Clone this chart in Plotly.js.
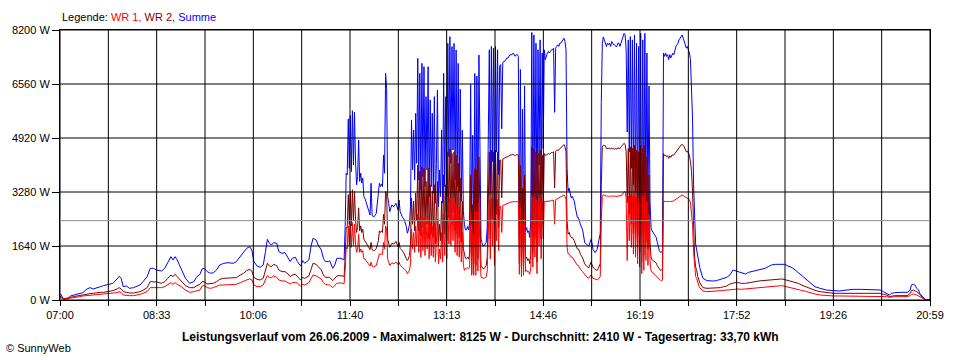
<!DOCTYPE html>
<html>
<head>
<meta charset="utf-8">
<script src="https://cdn.plot.ly/plotly-3.0.1.min.js"></script>
<style>
html,body{margin:0;padding:0;background:#fff;}
#chart{width:960px;height:360px;}
</style>
</head>
<body>
<div id="chart"></div>
<script>
// x values: minutes after 07:00 (26.06.2009)
const timeLabels = ["07:00","08:33","10:06","11:40","13:13","14:46","16:19","17:52","19:26","20:59"];
const dayMinutes = 839;
const yTicks = [0, 1640, 3280, 4920, 6560, 8200];
const average = 2410;

const minutes = [
  0,1,3,8,10,13,16,19,22,26,29,32,35,39,42,45,48,51,55,57,59,61,64,67,71,74,77,80,84,87,90,93,98,101,104,107,109,111,113,117,121,125,129,132,135,
  137,139,142,145,148,151,154,158,162,167,170,174,177,180,183,185,187,190,193,196,198,200,202,204,206,209,211,214,217,220,222,224,227,229,232,234,236,240,242,244,247,249,252,254,256,259,260,263,265,267,
  270,273,274,275,276,277,278,279,280,281,
  282,283,284,285,286,287,288,289,290,291,
  292,293,294,295,296,297,298,299,300,301,
  302,303,305,307,308,309,310,311,312,313,
  314,315,316,317,318,320,322,324,326,327,
  328,330,332,334,335,336,337,338,339,340,
  341,342,343,344,345,346,347,348,349,350,
  351,352,353,354,355,356,357,358,359,360,
  361,362,363,364,365,366,367,368,369,370,
  371,372,373,374,375,376,377,378,379,380,
  381,382,383,384,385,386,387,388,389,390,
  391,392,393,394,395,396,397,398,399,400,
  401,402,403,404,405,406,407,408,409,410,
  411,412,413,414,415,416,417,418,419,420,
  421,422,423,424,425,426,427,428,429,430,
  431,432,433,434,435,436,437,438,439,440,
  441,442,443,444,445,446,447,448,449,450,
  451,452,453,454,455,456,457,458,459,460,
  461,462,463,464,465,466,467,468,469,470,
  471,472,473,474,475,476,477,478,479,480,
  481,482,483,484,485,486,487,488,489,490,
  491,492,493,494,495,496,497,498,499,500,
  501,502,504,506,508,510,512,513,514,516,
  518,519,520,521,522,523,524,525,526,527,
  528,529,530,531,532,533,534,535,536,537,
  538,539,540,541,542,543,544,545,546,547,
  548,549,550,551,552,553,554,555,556,557,
  558,559,560,561,562,563,564,565,566,567,
  568,569,570,571,572,573,574,575,576,577,
  578,579,580,581,582,583,584,585,586,587,
  588,589,590,591,592,593,594,595,596,597,
  598,599,600,601,602,603,604,605,606,607,
  608,609,610,611,612,613,614,615,616,617,
  619,620,624,627,630,633,637,640,643,646,
  648,649,651,654,657,661,664,667,670,674,
  677,680,683,686,690,693,696,699,702,706,
  709,712,715,719,722,725,728,733,739,746,
  752,759,765,772,778,784,791,794,797,800,
  802,805,810,817,820,821,823,825,826,828,
  829,832,834,836,839
];

const summe = [
  170,172,31,31,122,152,172,203,223,334,375,334,375,405,436,456,476,506,638,719,658,405,425,355,375,405,456,557,709,962,962,911,881,962,1164,1316,1215,1316,1215,911,658,506,557,709,780,
  942,962,861,811,831,912,1064,1114,1134,1114,1165,1337,1468,1570,1620,1519,1165,1033,993,1064,1438,1843,1721,1671,1742,1721,1468,1418,1438,1266,1165,1266,1296,1165,1033,1195,1114,1215,1620,1873,1823,1671,1519,1266,1165,1165,1195,962,1064,1266,
  1268,1237,1217,2229,3848,3800,5500,4000,5600,3900,
  5750,4100,5700,4200,3500,3750,4860,3600,3850,3550,
  3700,3140,3090,2990,2890,2735,2630,2580,3545,2580,
  2530,2530,2630,3140,3545,3444,3525,3444,4405,3848,
  6884,6429,3140,2938,2685,2887,2837,2938,2735,3039,
  2685,2533,2432,2229,2027,2128,2280,2837,5468,3950,
  5164,3646,5670,4152,7340,3646,6884,3342,7188,3747,
  7087,3444,6176,3950,7087,3140,6075,3444,5670,3241,
  6176,2938,4152,6378,2837,3950,3140,5164,2938,6884,
  3444,6176,3140,7795,4354,7998,4152,7694,4557,7795,
  3646,7593,3444,7188,3300,6400,3000,5160,2700,2300,
  2130,2130,2230,2130,2330,6560,2300,5000,2000,6880,
  1900,6800,2200,7440,3500,1850,1740,1640,1640,1700,
  1750,2200,5620,7600,3200,7700,4200,7650,2600,7700,
  4500,7600,3800,7100,7150,5200,7200,7250,7250,7300,
  7350,7350,7400,7450,7450,7450,7500,7450,7400,7450,
  7450,7400,1900,7000,1700,5800,1800,6500,2100,2200,
  2050,2100,1900,2400,8125,2500,8050,3300,7800,2000,
  7600,4100,7900,3200,7500,4600,7600,7300,7450,7500,
  7550,7500,7550,7600,7600,7650,5700,7650,7700,7750,
  7700,7800,7800,7850,7900,7950,7850,7600,4000,3300,
  3400,3250,3100,3150,3050,3000,2800,2600,2500,2500,
  2380,2280,2130,1750,1680,1640,1840,1740,1540,1440,
  1540,1740,1900,2030,6000,7800,7990,7900,7850,7700,
  7800,7750,7800,7700,7850,7800,7750,7750,7700,7700,
  7800,7800,7700,7800,7900,8050,8100,8050,7600,5100,
  7900,4500,8000,4000,7900,3500,8050,3300,7800,2800,
  7700,2500,8100,2000,7900,2300,8100,3000,7500,2700,
  6500,3000,2200,2100,2050,2000,1950,1900,1750,1600,
  1500,1450,1450,1500,7500,7400,7500,7400,7450,7300,
  7450,7350,7450,7500,7450,7600,7700,7750,7800,7900,
  7950,8000,8050,7950,7850,7700,7650,7700,7600,7500,
  7300,6500,5500,3500,2200,1700,1520,1300,1150,980,
  759,658,587,577,577,587,628,658,689,759,
  861,911,891,861,830,790,840,861,881,911,
  931,962,1012,1063,1083,1083,1093,1083,1033,982,
  911,830,759,658,557,476,405,355,304,284,
  274,304,324,324,324,324,304,253,203,152,
  203,223,233,233,304,456,476,436,355,304,
  203,101,30,0,0
];

const wr2 = [
  100,102,31,51,81,102,122,142,162,172,193,203,223,233,233,253,264,284,334,375,334,253,233,213,213,223,253,294,375,557,557,547,506,557,658,759,709,780,709,557,436,375,375,436,476,
  558,558,487,487,507,558,628,659,659,659,679,760,811,892,932,881,689,628,608,659,861,1114,1033,1013,1084,1043,912,861,861,790,709,760,780,709,608,689,659,730,962,1114,1084,1013,912,760,689,689,689,588,659,730,
  740,730,720,1300,2200,2200,3200,2300,3300,2250,
  3350,2400,3300,2450,2050,2200,2800,2100,2250,2050,
  2150,1850,1800,1750,1700,1620,1560,1530,1750,1530,
  1500,1500,1560,1800,2100,2050,2100,2050,2600,2300,
  3300,3200,1850,1750,1600,1720,1700,1780,1620,1750,
  1570,1500,1400,1250,1200,1250,1350,1700,3100,2300,
  3000,2100,3250,2400,4100,2100,3900,1950,4050,2200,
  4000,2000,3600,2300,4000,1850,3500,2000,3300,1900,
  3500,1700,2400,3600,1650,2300,1800,3000,1700,3800,
  2000,3500,1800,4500,2500,4600,2400,4450,2650,4500,
  2100,4400,2000,4150,1900,3700,1750,3000,1550,1350,
  1270,1250,1300,1250,1400,3800,800,2900,1100,4000,
  1050,3950,1250,4350,2000,1050,1000,950,950,1000,
  1050,1300,3200,4500,1850,4550,2450,4500,1500,4550,
  2600,4500,2200,4250,4250,3100,4280,4300,4300,4320,
  4350,4350,4380,4400,4400,4420,4420,4400,4380,4420,
  4420,4400,1100,4100,1000,3400,1050,3800,1250,1300,
  1200,1250,1100,1400,4650,1450,4600,1900,4500,1150,
  4450,2400,4550,1850,4400,2700,4450,4400,4400,4420,
  4450,4430,4460,4480,4480,4500,3400,4520,4550,4560,
  4550,4600,4620,4650,4680,4720,4650,4500,2400,2000,
  2050,1950,1900,1900,1850,1800,1700,1600,1550,1550,
  1450,1380,1280,1100,1020,980,1150,1050,1000,930,
  900,950,1050,1100,3500,4650,4700,4700,4680,4600,
  4600,4600,4610,4580,4620,4600,4580,4580,4600,4580,
  4620,4620,4600,4650,4700,4750,4760,4720,4500,2950,
  4600,2600,4650,2300,4600,2000,4700,1900,4550,1600,
  4500,1450,4700,1150,4600,1350,4700,1750,4350,1550,
  3800,1750,1300,1220,1200,1170,1150,1120,1050,980,
  950,900,900,920,4450,4380,4400,4350,4380,4300,
  4380,4330,4400,4410,4400,4450,4500,4550,4600,4650,
  4680,4710,4720,4700,4650,4580,4500,4520,4450,4400,
  4200,3900,3300,2100,1300,1000,900,720,620,520,
  425,375,355,355,355,365,375,405,425,486,
  506,527,527,527,506,506,527,547,557,577,
  587,597,608,618,628,638,638,618,597,567,
  537,506,456,405,355,324,294,253,223,203,
  203,203,203,203,203,203,203,172,152,102,
  122,132,132,132,203,284,304,284,253,213,
  172,71,20,0,0
];

const wr1 = [
  70,71,21,41,51,71,92,102,122,132,152,152,152,162,172,183,183,193,223,253,223,152,132,132,132,142,172,203,253,375,375,375,375,405,456,527,476,527,476,405,304,233,253,274,304,
  426,436,375,355,375,406,456,456,456,456,477,527,578,608,639,608,456,406,406,456,608,740,689,679,730,689,608,578,578,527,487,527,537,507,426,477,456,527,659,760,730,689,639,527,477,456,456,375,456,507,
  520,510,500,900,1600,1550,2250,1650,2300,1600,
  2350,1650,2300,1700,1450,1500,2000,1450,1550,1450,
  1500,1250,1250,1200,1150,1100,1050,1030,1150,1030,
  1010,1010,1050,1250,1400,1380,1400,1380,1750,1550,
  2250,2150,1250,1150,1050,1130,1100,1150,1080,1150,
  1060,1000,950,880,800,850,900,1100,2150,1550,
  2050,1450,2250,1650,2600,1450,2500,1300,2550,1500,
  2500,1350,2400,1550,2550,1250,2350,1350,2250,1300,
  2350,1150,1650,2450,1100,1550,1250,2050,1150,2600,
  1350,2400,1250,3000,1700,3100,1650,3000,1800,3050,
  1450,2950,1350,2800,1300,2500,1150,2050,1050,900,
  960,950,980,950,1000,2600,750,2000,750,2700,
  750,2700,880,2950,1400,700,680,660,660,680,
  700,880,2200,3050,1250,3100,1650,3100,1050,3100,
  1800,3050,1500,2850,2850,2050,2870,2880,2890,2900,
  2920,2940,2950,2970,2980,2990,3000,2990,2980,2990,
  2990,2980,780,2800,700,2350,750,2600,860,900,
  850,860,780,980,3150,1000,3150,1300,3050,800,
  3000,1650,3100,1250,3000,1850,3000,2990,2990,2990,
  3000,3000,3010,3020,3020,3030,2300,3050,3060,3080,
  3080,3100,3120,3140,3160,3190,3150,3050,1600,1400,
  1400,1330,1300,1300,1250,1230,1150,1100,1050,1050,
  980,930,860,760,700,660,760,720,660,640,
  610,630,700,720,2400,3150,3200,3180,3170,3150,
  3160,3140,3150,3140,3160,3150,3150,3150,3150,3140,
  3150,3160,3160,3170,3190,3250,3290,3290,3100,1200,
  3150,1800,3200,1600,3150,1400,3200,1300,3100,1100,
  3050,1000,3250,800,3150,900,3250,1200,3000,1050,
  2600,1200,880,850,820,800,780,760,700,660,
  620,600,590,600,3000,2990,2990,2990,2990,2980,
  2990,2990,2990,3000,3010,3040,3060,3080,3100,3130,
  3150,3180,3190,3170,3150,3130,3100,3100,3080,3050,
  2950,2700,2300,1450,950,720,650,520,440,370,
  314,274,253,253,253,274,284,294,304,324,
  334,334,334,334,324,334,345,355,365,375,
  385,395,405,415,425,436,436,415,395,375,
  345,324,294,264,233,203,183,152,132,122,
  122,122,122,122,122,122,122,112,102,81,
  91,102,102,102,132,162,183,172,152,122,
  102,51,20,0,0
];

const FONT = "'Liberation Sans', Arial, sans-serif";

// 19 vertical grid positions, labels on every second one
const xTickVals = [];
const xTickText = [];
for (let k = 0; k <= 18; k++) {
  xTickVals.push(k * dayMinutes / 18);
  xTickText.push(k % 2 === 0 ? timeLabels[k / 2] : "");
}
const yTickText = yTicks.map(v => v + " W");

const shapes = [];
xTickVals.forEach(v => shapes.push({type:'line', xref:'x', yref:'paper', x0:v, x1:v, y0:0, y1:1, line:{color:'#000', width:1}, layer:'above'}));
yTicks.forEach(v => shapes.push({type:'line', xref:'paper', yref:'y', x0:0, x1:1, y0:v, y1:v, line:{color:'#000', width:1}, layer:'above'}));
shapes.push({type:'line', xref:'paper', yref:'y', x0:0, x1:1, y0:average, y1:average, line:{color:'#8c8c8c', width:1}, layer:'above'});

const traces = [
  {x: minutes, y: summe, name: 'Summe', type: 'scatter', mode: 'lines', line: {color: '#0000ff', width: 1}},
  {x: minutes, y: wr2, name: 'WR 2', type: 'scatter', mode: 'lines', line: {color: '#800000', width: 1}},
  {x: minutes, y: wr1, name: 'WR 1', type: 'scatter', mode: 'lines', line: {color: '#ff0000', width: 1}}
];

const layout = {
  width: 960, height: 360,
  margin: {l: 60, r: 30, t: 30, b: 60, pad: 0},
  paper_bgcolor: '#fff', plot_bgcolor: '#fff',
  showlegend: false,
  font: {family: FONT, size: 11, color: '#000'},
  xaxis: {
    range: [0, dayMinutes], tickmode: 'array', tickvals: xTickVals, ticktext: xTickText,
    showgrid: false, zeroline: false, showline: true, mirror: true, linecolor: '#000', linewidth: 1,
    ticks: 'outside', ticklen: 5, tickcolor: '#000', tickwidth: 1,
    tickfont: {family: FONT, size: 11, color: '#000'}
  },
  yaxis: {
    range: [0, 8200], tickmode: 'array', tickvals: yTicks, ticktext: yTickText,
    showgrid: false, zeroline: false, showline: true, mirror: true, linecolor: '#000', linewidth: 1,
    ticks: 'outside', ticklen: 7, tickcolor: '#000', tickwidth: 1,
    tickfont: {family: FONT, size: 11, color: '#000'}
  },
  shapes: shapes,
  annotations: [
    {xref: 'paper', yref: 'paper', x: 0, y: 1 + 13/270, xanchor: 'left', yanchor: 'middle', showarrow: false,
     text: 'Legende: <span style="color:#ff0000">WR 1,</span> <span style="color:#800000">WR 2,</span> <span style="color:#0000ff">Summe</span>',
     font: {family: FONT, size: 11, color: '#000'}},
    {xref: 'paper', yref: 'paper', x: (480 - 60) / 870, y: -37/270, xanchor: 'center', yanchor: 'middle', showarrow: false,
     text: '<b>Leistungsverlauf vom 26.06.2009 - Maximalwert: 8125 W - Durchschnitt: 2410 W - Tagesertrag: 33,70 kWh</b>',
     font: {family: FONT, size: 12, color: '#000'}},
    {xref: 'paper', yref: 'paper', x: -56/870, y: -48/270, xanchor: 'left', yanchor: 'middle', showarrow: false,
     text: '\u00a9 SunnyWeb', font: {family: FONT, size: 11, color: '#000'}}
  ]
};

Plotly.newPlot('chart', traces, layout, {displayModeBar: false, staticPlot: true});
</script>
</body>
</html>
